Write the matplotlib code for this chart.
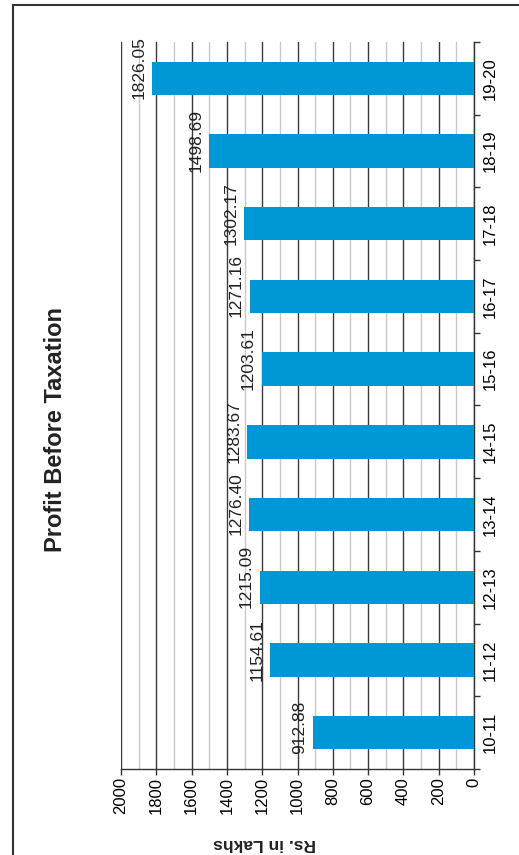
import numpy as np
import matplotlib
matplotlib.use("Agg")
import matplotlib.pyplot as plt
from matplotlib import font_manager
from matplotlib.lines import Line2D

years = ["10-11", "11-12", "12-13", "13-14", "14-15", "15-16", "16-17", "17-18", "18-19", "19-20"]
profit = [912.88, 1154.61, 1215.09, 1276.40, 1283.67, 1203.61, 1271.16, 1302.17, 1498.69, 1826.05]
value_ticks = list(range(0, 2001, 200))

names = set(f.name for f in font_manager.fontManager.ttflist)
narrow = "Liberation Sans Narrow" if "Liberation Sans Narrow" in names else "Liberation Sans"

W, H = 519, 855
fig = plt.figure(figsize=(W / 100, H / 100), dpi=100)

# axes box in pixels: x 121..474, y 42..769
ax = fig.add_axes([121 / W, (H - 769) / H, (474 - 121) / W, (769 - 42) / H])

pos = np.arange(len(years))
ax.barh(pos, profit, height=0.46, color="#0097d7", zorder=3)

ax.set_xlim(2000, 0)
ax.set_ylim(-0.5, len(years) - 0.5)

ax.set_xticks(value_ticks)
ax.set_xticklabels([str(v) for v in value_ticks], rotation=90, family=narrow, fontsize=12)
ax.set_xticks(np.arange(100, 2000, 200), minor=True)
ax.tick_params(axis="x", which="major", direction="out", length=4, width=1, color="#333333", pad=2)
ax.tick_params(axis="x", which="minor", length=0)
ax.grid(axis="x", which="major", color="#3a3a3a", lw=1, zorder=0)
ax.grid(axis="x", which="minor", color="#c8c8c8", lw=1, zorder=0)

# categories on the right side
ax.yaxis.tick_right()
ax.set_yticks(np.arange(-0.5, len(years), 1))
ax.set_yticklabels([])
ax.set_yticks(pos, minor=True)
ax.set_yticklabels(years, minor=True, rotation=90, va="center", family=narrow, fontsize=12)
ax.tick_params(axis="y", which="major", direction="out", length=4, width=1, color="#333333")
ax.tick_params(axis="y", which="minor", length=0, pad=6)

for s in ["left", "top"]:
    ax.spines[s].set_visible(False)
for s in ["right", "bottom"]:
    ax.spines[s].set_color("#333333")
    ax.spines[s].set_linewidth(1)

for i, v in enumerate(profit):
    ax.annotate(f"{v:.2f}", (v, i - 0.23), xytext=(-4, -3), textcoords="offset points",
                rotation=90, ha="right", va="bottom", family=narrow, fontsize=12.5,
                color="#222222", zorder=4)

fig.text(56 / W, 1 - 430 / H, "Profit Before Taxation", rotation=90, ha="center", va="center",
         family="Liberation Sans", fontweight="bold", fontsize=17, color="#222222")
fig.text(265 / W, 1 - 843 / H, "Rs. in Lakhs", rotation=180, ha="center", va="center",
         family="Liberation Sans", fontweight="bold", fontsize=12.5, color="#222222")

# frame lines of the page
fig.add_artist(Line2D([13 / W, 13 / W], [0, 1 - 5 / H], color="#333333", lw=1.5))
fig.add_artist(Line2D([13 / W, 1], [1 - 5 / H, 1 - 5 / H], color="#333333", lw=1.5))

fig.savefig("out.png", dpi=100)
